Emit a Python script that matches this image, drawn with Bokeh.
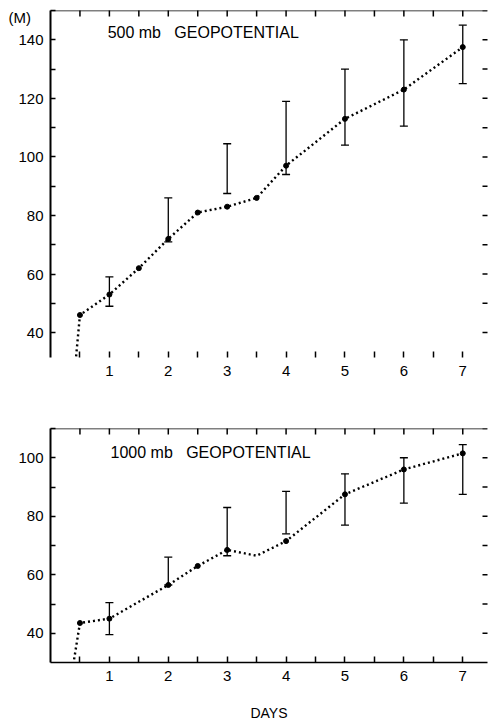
import math
from bokeh.plotting import figure
from bokeh.models import (LinearAxis, FixedTicker, Label, Span, CustomJSTickFormatter,
                          Whisker, ColumnDataSource, TeeHead, Range1d)
from bokeh.layouts import column
from bokeh.embed import file_html
from bokeh.resources import INLINE

# ---------------- data ----------------
day_ticks = [1, 2, 3, 4, 5, 6, 7]
half_day_ticks = [0.5, 1.5, 2.5, 3.5, 4.5, 5.5, 6.5]
all_day_ticks = [0.5, 1, 1.5, 2, 2.5, 3, 3.5, 4, 4.5, 5, 5.5, 6, 6.5, 7]

top_y_labels = [40, 60, 80, 100, 120, 140]
top_y_minor = [40, 50, 60, 70, 80, 90, 100, 110, 120, 130, 140, 150]
bot_y_labels = [40, 60, 80, 100]
bot_y_minor = [40, 50, 60, 70, 80, 90, 100, 110]
unit_label_pos = [147.6]   # where "(M)" sits on the 500 mb axis

# 500 mb geopotential (M)
top_line_days = [0.38, 0.5, 1.0, 1.5, 2.0, 2.5, 3.0, 3.5, 4.0, 5.0, 6.0, 7.0]
top_line_vals = [20, 46, 53, 62, 72, 81, 83, 86, 97, 113, 123, 137.5]
top_mark_days = [0.5, 1.0, 1.5, 2.0, 2.5, 3.0, 3.5, 4.0, 5.0, 6.0, 7.0]
top_mark_vals = [46, 53, 62, 72, 81, 83, 86, 97, 113, 123, 137.5]
top_err_days = [1, 2, 3, 4, 5, 6, 7]
top_err_lo = [49, 71, 87.5, 94, 104, 110.5, 125]
top_err_hi = [59, 86, 104.5, 119, 130, 140, 145]

# 1000 mb geopotential (M)
bot_line_days = [0.36, 0.5, 1.0, 2.0, 2.5, 3.0, 3.5, 4.0, 5.0, 6.0, 7.0]
bot_line_vals = [26, 43.5, 45, 56.5, 63, 68.5, 66.5, 71.5, 87.5, 96, 101.5]
bot_mark_days = [0.5, 1.0, 2.0, 2.5, 3.0, 4.0, 5.0, 6.0, 7.0]
bot_mark_vals = [43.5, 45, 56.5, 63, 68.5, 71.5, 87.5, 96, 101.5]
bot_err_days = [1, 2, 3, 4, 5, 6, 7]
bot_err_lo = [39.5, 56.5, 66.5, 74, 77, 84.5, 87.5]
bot_err_hi = [50.5, 66, 83, 88.5, 94.5, 100, 104.5]

FONT = "Liberation Sans"
X_MAX = 7.42


def add_axes(p, y_labels, y_minor, y_top, bottom_line=True, axis_label=None, unit_pos=None):
    # left axis: visible tick marks are the minor ones, labels come from the majors
    majors = list(y_labels) + (list(unit_pos) if unit_pos else [])
    left = LinearAxis(ticker=FixedTicker(ticks=majors, minor_ticks=y_minor))
    left.formatter = CustomJSTickFormatter(
        code="return tick > 145 ? '(M)\u00a0\u00a0\u00a0' : tick.toFixed(0);")
    left.axis_line_width = 2
    left.major_tick_in = 0
    left.major_tick_out = 0
    left.minor_tick_in = 5
    left.minor_tick_out = 0
    left.minor_tick_line_width = 1.5
    left.major_label_standoff = 7
    left.major_label_text_font = FONT
    left.major_label_text_font_size = "15px"
    left.major_label_text_color = "black"
    p.add_layout(left, "left")

    # bottom axis
    bottom = LinearAxis(ticker=FixedTicker(ticks=day_ticks, minor_ticks=half_day_ticks))
    bottom.axis_line_width = 1.5
    if not bottom_line:
        bottom.axis_line_alpha = 0
    bottom.major_tick_in = 6
    bottom.major_tick_out = 0
    bottom.minor_tick_in = 6
    bottom.minor_tick_out = 0
    bottom.major_tick_line_width = 1.5
    bottom.minor_tick_line_width = 1.5
    bottom.major_label_standoff = 8
    bottom.major_label_text_font = FONT
    bottom.major_label_text_font_size = "15px"
    bottom.major_label_text_color = "black"
    if axis_label:
        bottom.axis_label = axis_label
        bottom.axis_label_text_font = FONT
        bottom.axis_label_text_font_size = "14px"
        bottom.axis_label_text_font_style = "normal"
        bottom.axis_label_standoff = 21
        bottom.axis_label_text_color = "black"
    p.add_layout(bottom, "below")

    # top frame line and inward ticks on top and right edges
    p.add_layout(Span(location=y_top, dimension="width", line_color="black", line_width=1.5))
    p.scatter(all_day_ticks, [y_top] * len(all_day_ticks), marker="dash",
              angle=math.pi / 2, size=12, line_color="black", line_width=1.5)
    p.scatter([X_MAX] * len(y_minor), y_minor, marker="dash",
              size=10, line_color="black", line_width=1.5)


def draw_series(p, lx, ly, mx, my, ex, elo, ehi):
    p.line(lx, ly, line_color="black", line_width=2.4, line_dash="2 3")
    p.scatter(mx, my, size=5, color="black")
    src = ColumnDataSource(dict(x=ex, lo=elo, hi=ehi))
    w = Whisker(base="x", lower="lo", upper="hi", source=src,
                line_color="black", line_width=1.3,
                upper_head=TeeHead(size=8, line_width=1.3, line_color="black"),
                lower_head=TeeHead(size=8, line_width=1.3, line_color="black"))
    p.add_layout(w)


def base_fig(height, y0, y1, bt, bb):
    p = figure(width=488, height=height,
               x_range=Range1d(0, X_MAX), y_range=Range1d(y0, y1),
               output_backend="svg", toolbar_location=None,
               x_axis_location=None, y_axis_location=None,
               min_border_left=50, min_border_right=1,
               min_border_top=bt, min_border_bottom=bb)
    p.grid.visible = False
    p.outline_line_alpha = 0
    p.background_fill_color = "white"
    p.border_fill_color = "white"
    return p


# ---------------- top panel ----------------
p1 = base_fig(390, 31.5, 150, 10, 33)
add_axes(p1, top_y_labels, top_y_minor, 150, bottom_line=False, unit_pos=unit_label_pos)
draw_series(p1, top_line_days, top_line_vals, top_mark_days, top_mark_vals,
            top_err_days, top_err_lo, top_err_hi)
p1.add_layout(Label(x=0.97, y=142.4, text="500 mb\u00a0\u00a0\u00a0GEOPOTENTIAL",
                    text_font=FONT, text_font_size="16px", text_color="black",
                    text_baseline="middle", text_align="left"))

# ---------------- bottom panel ----------------
p2 = base_fig(333, 30, 110, 38, 60)
add_axes(p2, bot_y_labels, bot_y_minor, 110, bottom_line=True, axis_label="DAYS")
draw_series(p2, bot_line_days, bot_line_vals, bot_mark_days, bot_mark_vals,
            bot_err_days, bot_err_lo, bot_err_hi)
p2.add_layout(Label(x=1.02, y=101.8, text="1000 mb\u00a0\u00a0\u00a0GEOPOTENTIAL",
                    text_font=FONT, text_font_size="16px", text_color="black",
                    text_baseline="middle", text_align="left"))

layout = column(p1, p2, spacing=0)

with open("out.html", "w") as f:
    f.write(file_html(layout, INLINE))
